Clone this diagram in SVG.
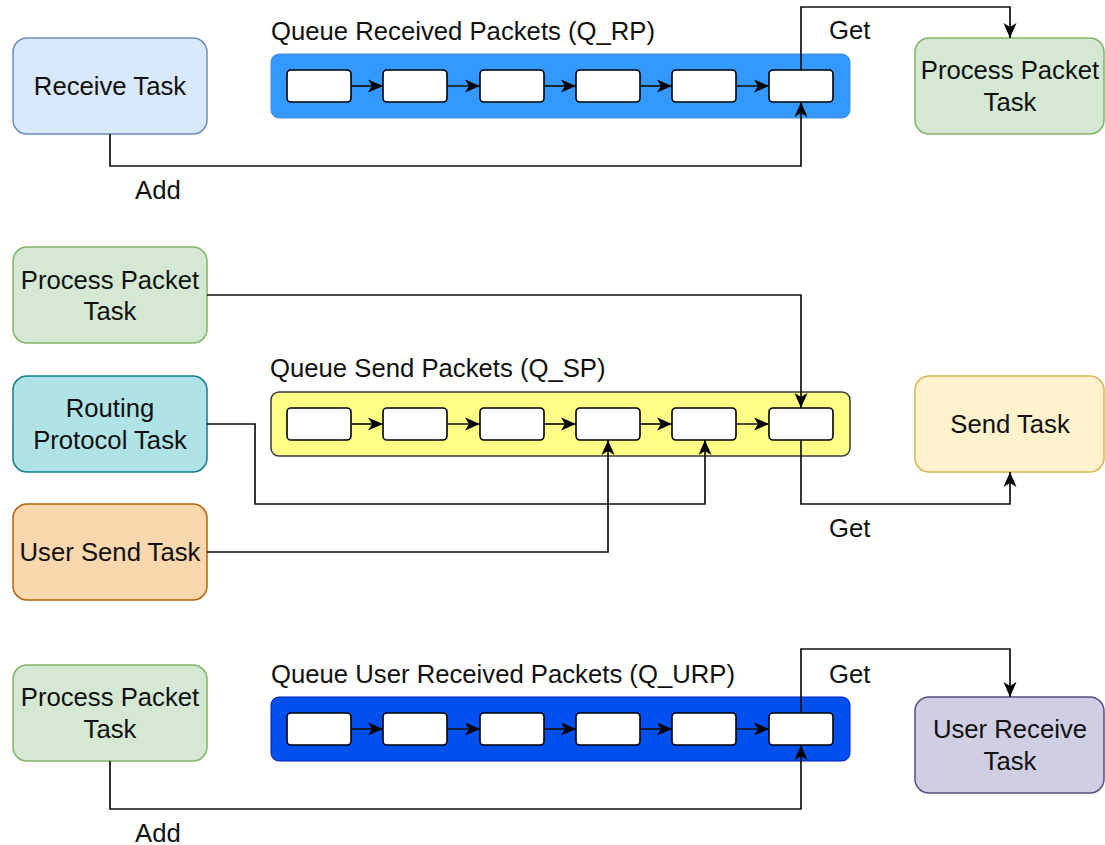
<svg xmlns="http://www.w3.org/2000/svg" width="1105" height="845" viewBox="0 0 1105 845">
<defs>
<marker id="arr" markerUnits="userSpaceOnUse" markerWidth="16" markerHeight="14" viewBox="0 0 16 14" refX="15" refY="7" orient="auto">
<path d="M0,0.5 L15,7 L0,13.5 L4,7 Z" fill="#000"/>
</marker>
<style>
text{font-family:"Liberation Sans",Arial,sans-serif;font-size:25.7px;fill:#111}
.c{text-anchor:middle}
.task{stroke-width:1.5}
.slot{fill:#fff;stroke:#000;stroke-width:1.6}
.conn{fill:none;stroke:#111;stroke-width:1.7;marker-end:url(#arr)}
.blue{fill:#dae8fc;stroke:#6c8ebf}
.green{fill:#d5e8d4;stroke:#82b366}
.teal{fill:#b0e3e6;stroke:#0e8088}
.orange{fill:#fad7ac;stroke:#b46504}
.yellow{fill:#fff2cc;stroke:#d6b656}
.purple{fill:#d0cee2;stroke:#56517e}
</style>
</defs>
<rect width="1105" height="845" fill="#fff"/>

<!-- Top section -->
<g id="receive-task">
<rect class="task blue" x="13" y="38" width="194" height="96" rx="14"/>
<text class="c" x="110" y="95">Receive Task</text>
</g>
<g id="q-rp">
<text x="271" y="40">Queue Received Packets (Q_RP)</text>
<rect x="271" y="54" width="579" height="64" rx="8" fill="#3399ff" stroke="#4a8fd9" stroke-width="1"/>
<rect class="slot" x="287" y="70" width="64" height="32" rx="4"/>
<rect class="slot" x="383" y="70" width="64" height="32" rx="4"/>
<rect class="slot" x="480" y="70" width="64" height="32" rx="4"/>
<rect class="slot" x="576" y="70" width="64" height="32" rx="4"/>
<rect class="slot" x="672" y="70" width="64" height="32" rx="4"/>
<rect class="slot" x="769" y="70" width="64" height="32" rx="4"/>
</g>
<g id="process-packet-task-1">
<rect class="task green" x="915" y="38" width="189" height="96" rx="14"/>
<text class="c" x="1010" y="79">Process Packet</text>
<text class="c" x="1010" y="111">Task</text>
</g>

<!-- Middle section -->
<g id="process-packet-task-2">
<rect class="task green" x="13" y="247" width="194" height="96" rx="14"/>
<text class="c" x="110" y="289">Process Packet</text>
<text class="c" x="110" y="320">Task</text>
</g>
<g id="routing-protocol-task">
<rect class="task teal" x="13" y="376" width="194" height="96" rx="14"/>
<text class="c" x="110" y="417">Routing</text>
<text class="c" x="110" y="449">Protocol Task</text>
</g>
<g id="user-send-task">
<rect class="task orange" x="13" y="504" width="194" height="96" rx="14"/>
<text class="c" x="110" y="561">User Send Task</text>
</g>
<g id="q-sp">
<text x="270" y="377">Queue Send Packets (Q_SP)</text>
<rect x="271" y="392" width="579" height="64" rx="8" fill="#ffff88" stroke="#36393d" stroke-width="1.5"/>
<rect class="slot" x="287" y="408" width="64" height="32" rx="4"/>
<rect class="slot" x="383" y="408" width="64" height="32" rx="4"/>
<rect class="slot" x="480" y="408" width="64" height="32" rx="4"/>
<rect class="slot" x="576" y="408" width="64" height="32" rx="4"/>
<rect class="slot" x="672" y="408" width="64" height="32" rx="4"/>
<rect class="slot" x="769" y="408" width="64" height="32" rx="4"/>
</g>
<g id="send-task">
<rect class="task yellow" x="915" y="376" width="189" height="96" rx="14"/>
<text class="c" x="1010" y="433">Send Task</text>
</g>

<!-- Bottom section -->
<g id="process-packet-task-3">
<rect class="task green" x="13" y="665" width="194" height="96" rx="14"/>
<text class="c" x="110" y="706">Process Packet</text>
<text class="c" x="110" y="738">Task</text>
</g>
<g id="q-urp">
<text x="271" y="683">Queue User Received Packets (Q_URP)</text>
<rect x="271" y="697" width="579" height="64" rx="8" fill="#0050ef" stroke="#001dbc" stroke-width="1"/>
<rect class="slot" x="287" y="713" width="64" height="32" rx="4"/>
<rect class="slot" x="383" y="713" width="64" height="32" rx="4"/>
<rect class="slot" x="480" y="713" width="64" height="32" rx="4"/>
<rect class="slot" x="576" y="713" width="64" height="32" rx="4"/>
<rect class="slot" x="672" y="713" width="64" height="32" rx="4"/>
<rect class="slot" x="769" y="713" width="64" height="32" rx="4"/>
</g>
<g id="user-receive-task">
<rect class="task purple" x="915" y="697" width="189" height="96" rx="14"/>
<text class="c" x="1010" y="738">User Receive</text>
<text class="c" x="1010" y="770">Task</text>
</g>

<g id="connectors">
<!-- queue internal links -->
<path class="conn" d="M351,86 H383"/>
<path class="conn" d="M447,86 H480"/>
<path class="conn" d="M544,86 H576"/>
<path class="conn" d="M640,86 H672"/>
<path class="conn" d="M736,86 H769"/>
<path class="conn" d="M351,424 H383"/>
<path class="conn" d="M447,424 H480"/>
<path class="conn" d="M544,424 H576"/>
<path class="conn" d="M640,424 H672"/>
<path class="conn" d="M736,424 H769"/>
<path class="conn" d="M351,729 H383"/>
<path class="conn" d="M447,729 H480"/>
<path class="conn" d="M544,729 H576"/>
<path class="conn" d="M640,729 H672"/>
<path class="conn" d="M736,729 H769"/>
<!-- top -->
<path class="conn" d="M801,70 V7 H1010 V38"/>
<path class="conn" d="M110,134 V166 H801 V102"/>
<!-- middle -->
<path class="conn" d="M207,295 H801 V408"/>
<path class="conn" d="M207,424 H255 V504 H705 V440"/>
<path class="conn" d="M207,552 H608 V440"/>
<path class="conn" d="M801,440 V504 H1010 V472"/>
<!-- bottom -->
<path class="conn" d="M801,713 V649 H1010 V697"/>
<path class="conn" d="M110,761 V809 H801 V745"/>
<!-- labels -->
<text x="829" y="39">Get</text>
<text x="135" y="199">Add</text>
<text x="829" y="537">Get</text>
<text x="829" y="683">Get</text>
<text x="135" y="842">Add</text>
</g>
</svg>
